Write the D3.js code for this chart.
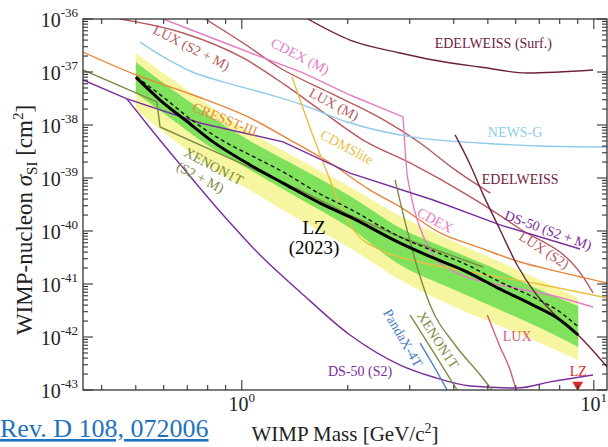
<!DOCTYPE html>
<html>
<head>
<meta charset="utf-8">
<script src="https://cdn.jsdelivr.net/npm/d3@7"></script>
<style>
  body { margin: 0; background: #fff; }
  svg { display: block; font-family: "Liberation Serif", "DejaVu Serif", serif; }
</style>
</head>
<body>
<div id="chart"></div>
<script>
// LZ 2023 sensitivity bands (mass in GeV/c^2, cross section in cm^2)
var bandMass = [0.5, 0.626, 0.813, 1.056, 1.465, 2.03, 2.82, 3.91, 5.42, 7.04, 9.03];
var yellowHi = [2.28e-37, 7.7e-38, 2.28e-38, 7.4e-39, 2.19e-39, 6.8e-40, 1.92e-40, 6.8e-41, 2.6e-41, 1.19e-41, 5.4e-42];
var greenHi = [1.55e-37, 4.99e-38, 1.48e-38, 4.99e-39, 1.55e-39, 4.57e-40, 1.14e-40, 4.4e-41, 1.76e-41, 7.7e-42, 3.85e-42];
var greenLo = [4.02e-38, 1.36e-38, 3.85e-39, 1.42e-39, 4.02e-40, 1.14e-40, 2.28e-41, 8.4e-42, 3.23e-42, 1.48e-42, 6.5e-43];
var yellowLo = [1.92e-38, 5.9e-39, 1.61e-39, 5.9e-40, 1.61e-40, 4.8e-41, 1.19e-41, 4.0e-42, 1.61e-42, 7.7e-43, 3.68e-43];

var lzMass = [0.5, 0.586, 0.691, 0.829, 1.056, 1.31, 1.669, 2.03, 2.82, 3.5, 4.37, 5.42, 6.72, 8.02, 9.03];
var lzObserved = [8.0e-38, 2.96e-38, 1.24e-38, 4.8e-39, 1.76e-39, 8.0e-40, 3.37e-40, 1.84e-40, 5.9e-41, 3.1e-41, 1.68e-41, 8.0e-42, 4.0e-42, 2.1e-42, 1.09e-42];
var lzMedianMass = [0.503, 0.598, 0.727, 0.885, 1.056, 1.31, 1.669, 2.03, 2.82, 3.5, 4.37, 5.42, 6.72, 8.02, 9.03];
var lzMedian = [8.0e-38, 3.37e-38, 1.19e-38, 5.0e-39, 2.72e-39, 1.3e-39, 4.99e-40, 2.6e-40, 7.7e-41, 4.2e-41, 2.28e-41, 1.09e-41, 5.7e-42, 2.96e-42, 1.55e-42];

// other experiments, [mass, cross section]
var edelweissSurf = [[1.54, 1e-36], [2.03, 4.0e-37], [2.82, 2.28e-37], [3.5, 1.68e-37], [4.76, 1.24e-37], [6.47, 9.6e-38], [9.95, 1.09e-37]];
var luxS2M = [[0.451, 1e-36], [0.681, 5.45e-37], [1.009, 1.84e-37], [1.327, 5.7e-38], [1.669, 1.92e-38], [2.211, 5.2e-39], [3.007, 1.92e-39], [4.365, 4.8e-40], [6.055, 1.19e-40], [9.32, 1.36e-41], [9.95, 6.8e-42]];
var luxM = [[0.787, 1e-36], [1.009, 3.52e-37], [1.285, 1.19e-37], [1.782, 4.02e-38], [2.472, 1.36e-38], [3.21, 4.57e-39], [4.036, 1.42e-39], [5.082, 5.2e-40]];
var cdexM = [[0.598, 1e-36], [0.927, 3.23e-37], [1.494, 9.6e-38], [2.03, 3.68e-38], [2.872, 1.42e-38], [2.91, 3.37e-39], [2.948, 1.14e-39]];
var cdex = [[2.948, 1.14e-39], [3.066, 3.1e-40], [3.21, 1.14e-40], [3.496, 3.52e-41], [4.036, 1.68e-41], [5.418, 9.6e-42], [7.514, 6.2e-42], [9.95, 3.68e-42]];
var cresst = [[0.354, 2.38e-37], [0.501, 8.8e-38], [0.727, 3.68e-38], [1.056, 1.36e-38], [1.372, 5.2e-39], [1.782, 1.92e-39], [2.315, 5.9e-40], [2.818, 2.84e-40], [3.66, 9.2e-41], [4.76, 4.8e-41], [6.175, 2.6e-41], [8.02, 1.68e-41], [10.91, 1.045e-41]];
var cdmslite = [[1.39, 8.05e-38], [1.563, 8.8e-39], [1.759, 1.14e-39], [1.902, 3.1e-40], [2.099, 9.6e-41], [2.472, 4.39e-41], [3.21, 2.6e-41], [4.458, 1.68e-41], [6.72, 1.045e-41], [10.91, 5.45e-42]];
var newsG = [[0.514, 3.68e-37], [0.606, 1.84e-37], [0.713, 1.045e-37], [0.885, 6.5e-38], [1.127, 4.2e-38], [1.494, 2.38e-38], [1.991, 1.14e-38], [3.066, 5.9e-39], [4.76, 4.57e-39], [7.04, 4.02e-39], [10.91, 3.85e-39]];
var ds50S2M = [[0.354, 7.07e-38], [0.472, 3.1e-38], [0.761, 1.09e-38], [1.31, 4.8e-39], [2.03, 1.24e-39], [3.496, 3.85e-40], [5.418, 1.3e-40], [9.14, 4.57e-41]];
var ds50S2 = [[0.472, 3.1e-38], [0.549, 8.8e-39], [0.681, 1.55e-39], [0.885, 2.0e-40], [1.127, 3.52e-41], [1.465, 7.07e-42], [2.03, 1.09e-42], [2.818, 2.96e-43], [3.496, 1.76e-43], [4.458, 1.19e-43], [6.055, 1.09e-43], [7.514, 1.42e-43], [9.95, 1.92e-43]];
var xenonS2M = [[0.354, 1.09e-37], [0.574, 2.72e-38], [0.586, 9.2e-39], [0.989, 1.92e-39], [1.465, 5.9e-40], [2.03, 2.0e-40], [2.818, 7.7e-41], [4.854, 2.09e-41]];
var xenon1t = [[2.726, 9.2e-40], [2.948, 1.045e-40], [3.168, 1.84e-41], [3.427, 4.02e-42], [4.036, 7.07e-43], [4.76, 1.92e-43], [5.14, 1e-43]];
var xenon1tB = [[3.007, 2.6e-42], [3.472, 5.7e-43], [4.089, 1e-43]];
var pandax = [[3.21, 7.7e-43], [3.496, 2.96e-43], [3.83, 1e-43]];
var luxLow = [[4.982, 2.6e-42], [5.418, 6.5e-43], [5.784, 2.38e-43], [6.016, 1e-43]];
var edelweiss = [[4.036, 6.5e-39], [4.458, 1.76e-39], [4.854, 4.8e-40], [5.418, 1.045e-40], [6.055, 2.28e-41], [6.812, 6.8e-42], [7.764, 2.6e-42], [9.14, 1.0e-42], [10.91, 2.72e-43]];
var lzMarker = [9.0, 1.25e-43];

var width = 608, height = 447;
var pLeft = 83, pRight = 607, pTop = 19, pBottom = 390;

var svg = d3.select("#chart").append("svg")
  .attr("width", width)
  .attr("height", height);

var x = d3.scaleLog().domain([0.354, 10.9]).range([pLeft, pRight]);
var y = d3.scaleLog().domain([1e-43, 1e-36]).range([pBottom, pTop]);

svg.append("clipPath").attr("id", "plotclip")
  .append("rect")
  .attr("x", pLeft).attr("y", pTop)
  .attr("width", pRight - pLeft).attr("height", pBottom - pTop);

var plot = svg.append("g").attr("clip-path", "url(#plotclip)");

// bands
var area = d3.area()
  .x(function (d) { return x(d[0]); })
  .y0(function (d) { return y(d[1]); })
  .y1(function (d) { return y(d[2]); })
  .curve(d3.curveMonotoneX);

plot.append("path")
  .datum(bandMass.map(function (m, i) { return [m, yellowLo[i], yellowHi[i]]; }))
  .attr("d", area)
  .style("fill", "#f6f5a0");
plot.append("path")
  .datum(bandMass.map(function (m, i) { return [m, greenLo[i], greenHi[i]]; }))
  .attr("d", area)
  .style("fill", "#80e25c");

var smooth = d3.line()
  .x(function (d) { return x(d[0]); })
  .y(function (d) { return y(d[1]); })
  .curve(d3.curveMonotoneX);
var straight = d3.line()
  .x(function (d) { return x(d[0]); })
  .y(function (d) { return y(d[1]); });

var curves = [
  { pts: edelweissSurf, color: "#6d2141", line: smooth },
  { pts: luxS2M, color: "#b45a5e", line: smooth },
  { pts: luxM, color: "#b45a5e", line: smooth },
  { pts: cdexM, color: "#e47cc6", line: straight },
  { pts: cdex, color: "#e47cc6", line: smooth },
  { pts: newsG, color: "#8ecbea", line: smooth },
  { pts: cresst, color: "#e8853b", line: smooth },
  { pts: cdmslite, color: "#e9c03f", line: smooth },
  { pts: ds50S2M, color: "#7b2d9c", line: straight },
  { pts: ds50S2, color: "#7b2d9c", line: smooth },
  { pts: xenonS2M, color: "#7b8b45", line: straight },
  { pts: xenon1t, color: "#7b8b45", line: smooth },
  { pts: xenon1tB, color: "#7b8b45", line: smooth },
  { pts: pandax, color: "#4d7fbf", line: smooth },
  { pts: luxLow, color: "#d0607a", line: smooth },
  { pts: edelweiss, color: "#6d2141", line: smooth }
];

curves.forEach(function (c) {
  plot.append("path")
    .datum(c.pts)
    .attr("d", c.line)
    .style("fill", "none")
    .style("stroke", c.color)
    .style("stroke-width", 1.4);
});

// LZ lines
plot.append("path")
  .datum(lzMedianMass.map(function (m, i) { return [m, lzMedian[i]]; }))
  .attr("d", smooth)
  .style("fill", "none")
  .style("stroke", "#111")
  .style("stroke-width", 1.4)
  .style("stroke-dasharray", "4,3");
plot.append("path")
  .datum(lzMass.map(function (m, i) { return [m, lzObserved[i]]; }))
  .attr("d", smooth)
  .style("fill", "none")
  .style("stroke", "#000")
  .style("stroke-width", 3);

plot.append("path")
  .attr("d", d3.symbol().type(d3.symbolTriangle).size(50))
  .attr("transform", "translate(" + x(lzMarker[0]) + "," + y(lzMarker[1]) + ") rotate(180)")
  .style("fill", "#d92a2a");

// curve labels
var labels = [
  { t: "EDELWEISS (Surf.)", m: 5.18, s: 3.52e-37, a: 0, c: "#6d2141" },
  { t: "LUX (S2 + M)", m: 0.72, s: 2.9e-37, a: 27, c: "#b45a5e" },
  { t: "CDEX (M)", m: 1.466, s: 2.0e-37, a: 27, c: "#e47cc6" },
  { t: "LUX (M)", m: 1.83, s: 2.49e-38, a: 28, c: "#b45a5e" },
  { t: "CRESST-III", m: 0.897, s: 1.3e-38, a: 22, c: "#e8853b" },
  { t: "CDMSlite", m: 1.991, s: 3.85e-39, a: 28, c: "#e9c03f" },
  { t: "NEWS-G", m: 5.975, s: 7.4e-39, a: 0, c: "#8ecbea" },
  { t: "EDELWEISS", m: 6.175, s: 9.6e-40, a: 0, c: "#6d2141" },
  { t: "CDEX", m: 3.54, s: 1.61e-40, a: 28, c: "#e47cc6" },
  { t: "DS-50 (S2 + M)", m: 7.42, s: 1.045e-40, a: 20, c: "#7b2d9c" },
  { t: "LUX (S2)", m: 7.225, s: 4.39e-41, a: 33, c: "#b45a5e" },
  { t: "PandaX-4T", m: 2.872, s: 9.6e-43, a: 60, c: "#4d7fbf" },
  { t: "XENON1T", m: 3.612, s: 8.8e-43, a: 57, c: "#7b8b45" },
  { t: "LUX", m: 6.055, s: 1.045e-42, a: 0, c: "#d0607a" },
  { t: "DS-50 (S2)", m: 2.168, s: 2.28e-43, a: 0, c: "#7b2d9c" },
  { t: "LZ", m: 9.03, s: 2.28e-43, a: 0, c: "#d92a2a" }
];

svg.selectAll(".lbl")
  .data(labels)
  .enter()
  .append("text")
  .attr("class", "lbl")
  .attr("transform", function (d) {
    return "translate(" + x(d.m) + "," + y(d.s) + ") rotate(" + d.a + ")";
  })
  .attr("text-anchor", "middle")
  .attr("dy", "0.35em")
  .style("font-size", "14px")
  .style("fill", function (d) { return d.c; })
  .text(function (d) { return d.t; });

var xen = svg.append("text")
  .attr("transform", "translate(" + x(0.802) + "," + y(1.3e-39) + ") rotate(28)")
  .style("font-size", "14px")
  .style("fill", "#7b8b45");
xen.append("tspan").attr("x", -30).attr("y", -3).text("XENON1T");
xen.append("tspan").attr("x", -30).attr("y", 13).text("(S2 + M)");

svg.append("text")
  .attr("x", x(1.605)).attr("y", y(1.19e-40))
  .attr("text-anchor", "middle").attr("dy", "0.35em")
  .style("font-size", "19px")
  .text("LZ");
svg.append("text")
  .attr("x", x(1.605)).attr("y", y(4.99e-41))
  .attr("text-anchor", "middle").attr("dy", "0.35em")
  .style("font-size", "19px")
  .text("(2023)");

// frame and ticks
var axisColor = "#333";
svg.append("rect")
  .attr("x", pLeft).attr("y", pTop)
  .attr("width", pRight - pLeft).attr("height", pBottom - pTop)
  .style("fill", "none")
  .style("stroke", axisColor)
  .style("stroke-width", 1.3);

function isMajor(v) {
  return Math.abs(Math.log10(v) - Math.round(Math.log10(v))) < 1e-6;
}

var xt = x.ticks();
var yt = y.ticks();
var ticks = svg.append("g").style("stroke", axisColor).style("stroke-width", 1.1);

xt.forEach(function (t) {
  var len = isMajor(t) ? 10 : 5;
  ticks.append("line").attr("x1", x(t)).attr("x2", x(t)).attr("y1", pBottom).attr("y2", pBottom - len);
  ticks.append("line").attr("x1", x(t)).attr("x2", x(t)).attr("y1", pTop).attr("y2", pTop + len);
});
yt.forEach(function (t) {
  var len = isMajor(t) ? 10 : 5;
  ticks.append("line").attr("y1", y(t)).attr("y2", y(t)).attr("x1", pLeft).attr("x2", pLeft + len);
  ticks.append("line").attr("y1", y(t)).attr("y2", y(t)).attr("x1", pRight).attr("x2", pRight - len);
});

xt.filter(isMajor).forEach(function (t) {
  var lb = svg.append("text")
    .attr("x", x(t)).attr("y", 411)
    .attr("text-anchor", "middle")
    .style("font-size", "20px")
    .style("fill", "#222");
  lb.append("tspan").text("10");
  lb.append("tspan").attr("dy", -9).style("font-size", "13px").text(Math.round(Math.log10(t)));
});

yt.filter(isMajor).forEach(function (t) {
  var lb = svg.append("text")
    .attr("x", 78).attr("y", y(t) + 8)
    .attr("text-anchor", "end")
    .style("font-size", "20px")
    .style("fill", "#222");
  lb.append("tspan").text("10");
  lb.append("tspan").attr("dy", -10).style("font-size", "13px").text(Math.round(Math.log10(t)));
});

// axis titles
var yl = svg.append("text")
  .attr("transform", "translate(32,220) rotate(-90)")
  .attr("text-anchor", "middle")
  .style("font-size", "23px")
  .style("fill", "#222");
yl.append("tspan").text("WIMP-nucleon ");
yl.append("tspan").style("font-style", "italic").text("σ");
yl.append("tspan").attr("dy", 5).style("font-size", "15px").text("SI");
yl.append("tspan").attr("dy", -5).text(" [cm");
yl.append("tspan").attr("dy", -9).style("font-size", "15px").text("2");
yl.append("tspan").attr("dy", 9).text("]");

var xl = svg.append("text")
  .attr("x", 345).attr("y", 441)
  .attr("text-anchor", "middle")
  .style("font-size", "21px")
  .style("fill", "#222");
xl.append("tspan").text("WIMP Mass [GeV/c");
xl.append("tspan").attr("dy", -8).style("font-size", "14px").text("2");
xl.append("tspan").attr("dy", 8).text("]");

svg.append("text")
  .attr("x", 0).attr("y", 437)
  .style("font-size", "26px")
  .style("fill", "#1f72c0")
  .style("text-decoration", "underline")
  .text("Rev. D 108, 072006");
</script>
</body>
</html>
